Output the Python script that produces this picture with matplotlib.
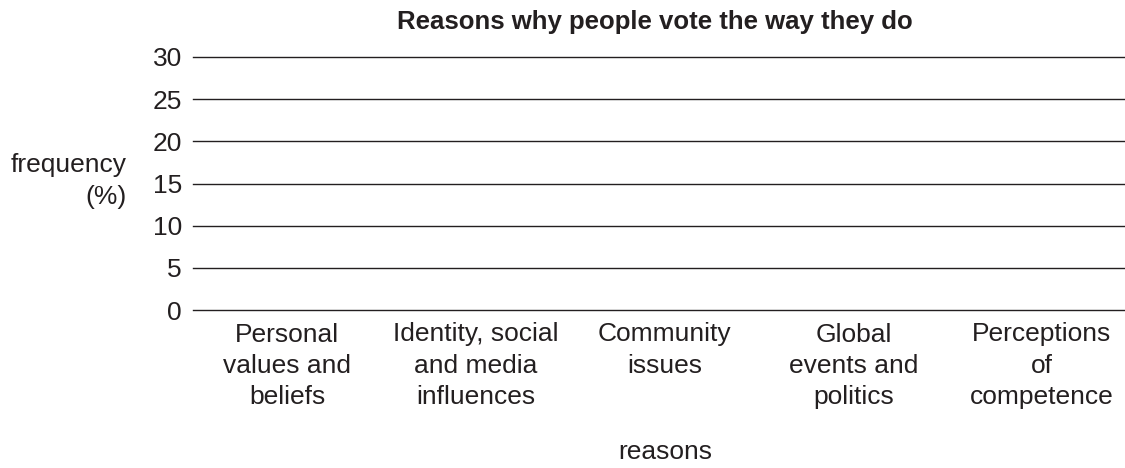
import matplotlib.pyplot as plt

plt.rcParams['font.family'] = ['Liberation Sans', 'DejaVu Sans']

# categories on the x axis (the chart is an empty template, no bars filled in)
reasons = ['Personal\nvalues and\nbeliefs',
           'Identity, social\nand media\ninfluences',
           'Community\nissues',
           'Global\nevents and\npolitics',
           'Perceptions\nof\ncompetence']
frequency = [0, 0, 0, 0, 0]
yticks = [0, 5, 10, 15, 20, 25, 30]

txt = '#231f20'
fs = 19

fig = plt.figure(figsize=(11.25, 4.68), dpi=100)
ax = fig.add_axes([193 / 1125, 1 - 310 / 468, 1 - 193 / 1125, (310 - 57) / 468])

x = range(len(reasons))
ax.bar(x, frequency, width=0.6, color='#808080', linewidth=0, zorder=1)

ax.set_xlim(-0.5, len(reasons) - 0.56)
ax.set_ylim(0, 30)
ax.set_yticks(yticks)
for t in yticks:
    ax.axhline(t, color=txt, lw=1.0, zorder=2, clip_on=False)

ax.set_xticks(list(x))
ax.set_xticklabels(reasons, fontsize=fs, color=txt, linespacing=1.38)
ax.tick_params(axis='y', length=0, pad=8, labelsize=fs, labelcolor=txt)
ax.tick_params(axis='x', length=0, pad=9)
for s in ax.spines.values():
    s.set_visible(False)

fig.text(655 / 1125, 1 - 22 / 468, 'Reasons why people vote the way they do',
         ha='center', va='center', fontsize=18.5, fontweight='bold', color=txt)
fig.text(127 / 1125, 1 - 181 / 468, 'frequency\n(%)', ha='right', va='center',
         fontsize=fs, color=txt, linespacing=1.4)
fig.text(665 / 1125, 1 - 452 / 468, 'reasons', ha='center', va='center',
         fontsize=fs, color=txt)

plt.savefig('out.png', dpi=100)
